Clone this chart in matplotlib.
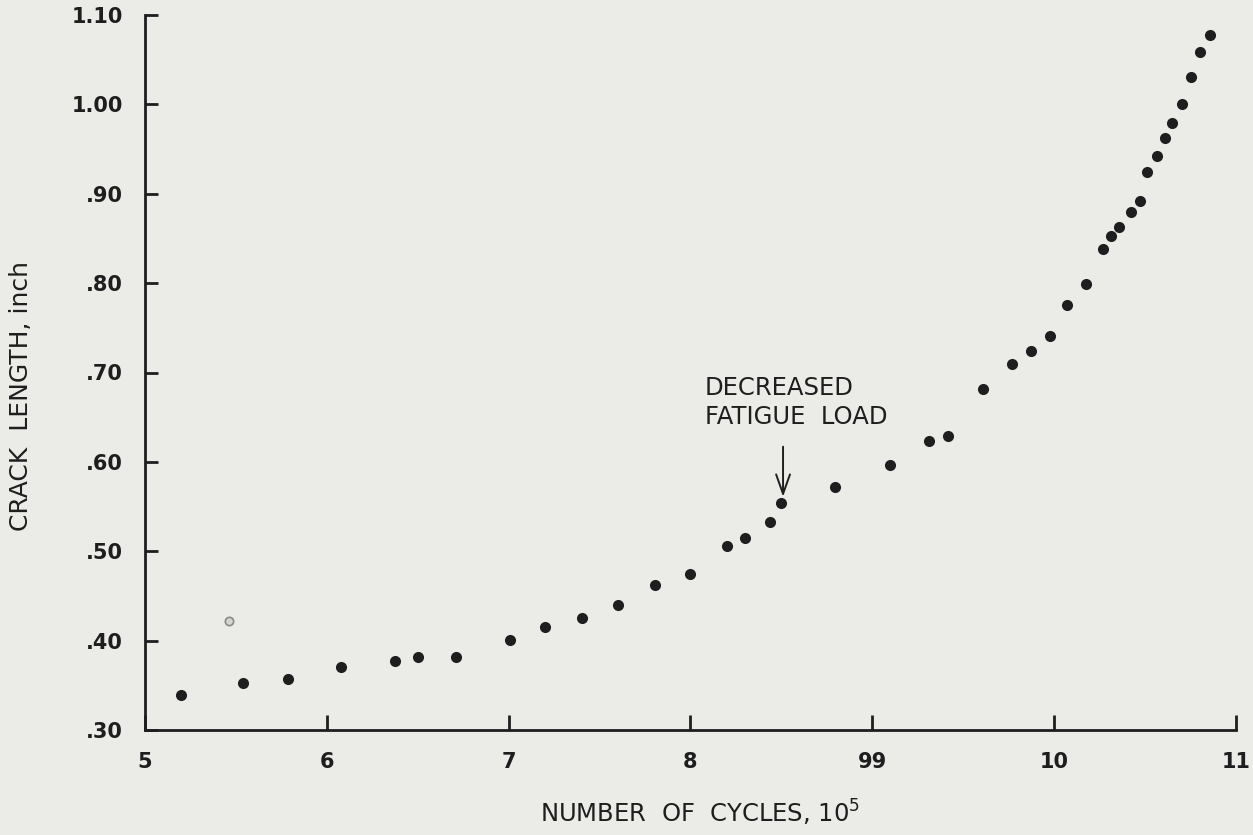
import matplotlib
matplotlib.use("Agg")
import matplotlib.pyplot as plt

# Data
cycles = [5.20, 5.54, 5.785, 6.08, 6.375, 6.50, 6.71, 7.01, 7.20, 7.405,
          7.60, 7.805, 8.00, 8.20, 8.30, 8.435, 8.50, 8.795, 9.095, 9.31,
          9.415, 9.61, 9.77, 9.87, 9.975, 10.07, 10.175, 10.27, 10.315, 10.355,
          10.42, 10.47, 10.51, 10.565, 10.61, 10.65, 10.705, 10.75, 10.80, 10.855]
crack = [0.339, 0.353, 0.357, 0.371, 0.377, 0.382, 0.382, 0.401, 0.415, 0.425,
         0.440, 0.462, 0.474, 0.506, 0.515, 0.533, 0.554, 0.572, 0.597, 0.623,
         0.629, 0.682, 0.709, 0.724, 0.741, 0.776, 0.799, 0.838, 0.853, 0.863,
         0.880, 0.892, 0.924, 0.942, 0.962, 0.979, 1.000, 1.031, 1.059, 1.078]
stray_x = [5.46]
stray_y = [0.422]

xticks = [5, 6, 7, 8, 9, 10, 11]
xticklabels = ["5", "6", "7", "8", "99", "10", "11"]
yticks = [0.30, 0.40, 0.50, 0.60, 0.70, 0.80, 0.90, 1.00, 1.10]
yticklabels = [".30", ".40", ".50", ".60", ".70", ".80", ".90", "1.00", "1.10"]

bg = "#ebebe8"
ink = "#1e1e1e"

plt.rcParams['font.family'] = ['DejaVu Sans']

fig = plt.figure(figsize=(12.53, 8.35), dpi=100, facecolor=bg)
ax = fig.add_axes([145/1253, 1-730/835, (1236-145)/1253, (730-15)/835])
ax.set_facecolor(bg)

ax.plot(cycles, crack, linestyle='none', marker='o', markersize=8,
        color=ink, markeredgewidth=0, clip_on=False)
ax.plot(stray_x, stray_y, linestyle='none', marker='o', markersize=6,
        markerfacecolor='#d4d4d0', markeredgecolor='#8a8a86', markeredgewidth=1.2)

ax.set_xlim(5, 11)
ax.set_ylim(0.30, 1.10)

for s in ['top', 'right']:
    ax.spines[s].set_visible(False)
for s in ['left', 'bottom']:
    ax.spines[s].set_linewidth(2.0)
    ax.spines[s].set_color(ink)

ax.set_xticks(xticks)
ax.set_xticklabels(xticklabels)
ax.set_yticks(yticks)
ax.set_yticklabels(yticklabels)
ax.tick_params(axis='x', direction='in', length=11, width=2.0, color=ink,
               pad=16, labelsize=15, labelcolor=ink)
ax.tick_params(axis='y', direction='in', length=9.5, width=2.0, color=ink,
               pad=16, labelsize=15, labelcolor=ink)
for lab in ax.get_xticklabels() + ax.get_yticklabels():
    lab.set_fontweight('bold')

fig.text(700/1253, 1-813/835, "NUMBER  OF  CYCLES, 10$^5$", ha='center', va='center',
         fontsize=17.5, color=ink)
fig.text(21/1253, 1-396/835, "CRACK  LENGTH, inch", rotation=90, ha='center',
         va='center', fontsize=18, color=ink)

ax.text(8.08, 0.696, "DECREASED\nFATIGUE  LOAD", ha='left', va='top',
        fontsize=17.5, color=ink, linespacing=1.25)
ax.annotate('', xy=(8.509, 0.561), xytext=(8.509, 0.617),
            arrowprops=dict(arrowstyle='->, head_length=0.7, head_width=0.25',
                            color=ink, lw=1.4, mutation_scale=20,
                            shrinkA=0, shrinkB=0))

fig.savefig("out.png", dpi=100, facecolor=bg)
